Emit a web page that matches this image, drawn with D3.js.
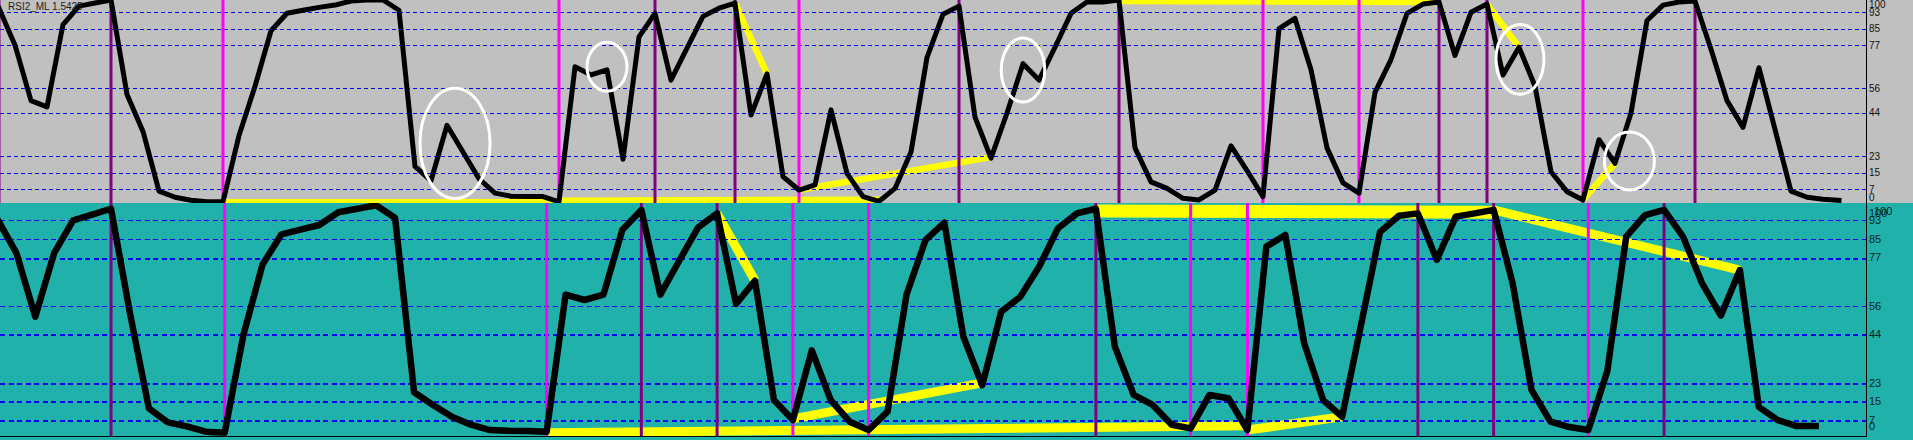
<!DOCTYPE html>
<html>
<head>
<meta charset="utf-8">
<script src="https://cdn.jsdelivr.net/npm/d3@7"></script>
<style>
  body { margin: 0; background: #c0c0c0; overflow: hidden; }
  svg { display: block; }
  text { font-family: "Liberation Sans", Arial, sans-serif; }
</style>
</head>
<body>
<script>
// ---- data ----
// upper window, one value per bar
var topValues = [95, 77, 50, 47, 87, 96, 97.5, 99, 53, 35,
  6, 3, 1.5, 0.8, 0.8, 33, 57, 84, 92.5, 94,
  95.4, 96.5, 98.5, 99, 99, 94, 18, 11, 38, 25,
  12, 5, 3.5, 3.3, 3.3, 0.8, 66.5, 62.5, 65, 21.5,
  81, 92.5, 60, 75.5, 91, 95, 97.5, 43, 63, 13,
  6.5, 9, 45.5, 14.6, 3.3, 1, 7.3, 25, 71, 92,
  96, 42, 22, 44, 68, 60, 76, 92.5, 98, 98,
  99, 27, 10.5, 7.3, 2.5, 1.7, 6.5, 28, 16, 3.3,
  85, 90, 65, 27, 10, 5, 54, 70, 92.5, 97,
  98, 72, 93, 97, 62.5, 76, 57, 15.4, 5.7, 1.7,
  31, 19.5, 44, 89, 96.5, 98, 98.5, 75, 50, 37,
  66, 36, 6, 3, 2, 1.5];

// lower window
var botValues = [93.5, 79, 51.5, 79, 93, 95.5, 98, 53, 12, 6,
  4.3, 2, 1.5, 44, 74, 87, 89, 91, 96.5, 98,
  99.5, 94, 19, 13.5, 8.4, 5, 2.7, 2.4, 2.3, 2,
  61, 58.7, 61, 89, 97.5, 61, 75.6, 90, 96, 57,
  67, 15.6, 7, 37, 15.6, 6.3, 2.7, 10.6, 61, 84.5,
  92, 43, 22, 53.7, 60, 73, 89.6, 96, 98, 38.6,
  17.8, 13.5, 5, 3.4, 17.8, 16.4, 2.7, 81.7, 86.7, 40,
  15.6, 8.4, 48, 88, 95, 96, 76, 94.6, 96, 97.5,
  66, 20, 6.3, 4, 2.7, 28, 86, 95.3, 97.5, 86,
  66, 52, 71.6, 12.7, 7, 4.4, 4.4];

var levels = [93, 85, 77, 56, 44, 23, 15, 7];
var scaleLabels = [100, 93, 85, 77, 56, 44, 23, 15, 7, 0];

// vertical lines, by bar number
var topMagenta = [14, 35, 50, 79, 85, 99];
var topPurple = [0, 7, 41, 46, 60, 70, 90, 93, 106];
var botMagenta = [12, 29, 42, 46, 63, 66, 84];
var botPurple = [6, 34, 38, 58, 75, 79, 88];

// yellow trend lines: [bar1, value1, bar2, value2]
var topTrends = [[14, 0.5, 35, 0.5], [35, 1.3, 55, 1.8], [46, 97.5, 48, 63],
  [50, 6.5, 62, 22.5], [70, 98.5, 90, 98], [93, 97, 95, 76], [99, 1.7, 101, 19.5]];
var botTrends = [[29, 1.5, 66, 4.5], [38, 96, 40, 67], [42, 7.5, 52, 23],
  [58, 97, 79, 96.5], [79, 97.5, 92, 71.6], [66, 2.7, 71, 8.4]];

// white circles: [bar, value, half width in bars, half height in value]
var topCircles = [[28.5, 29.2, 2.19, 26.8], [38, 66.5, 1.25, 11.9], [64, 64.9, 1.36, 15.6],
  [95.06, 70.1, 1.5, 17], [101.9, 20.6, 1.56, 14.1]];

var title = "RSI2_ML 1.5425";

// ---- drawing ----
var width = 1913, height = 440, axisX = 1866.5;

var svg = d3.select("body").append("svg")
  .attr("width", width)
  .attr("height", height);

svg.append("rect").attr("x", 0).attr("y", 0).attr("width", width).attr("height", 203).attr("fill", "#c0c0c0");
svg.append("rect").attr("x", 0).attr("y", 203).attr("width", width).attr("height", 237).attr("fill", "#20b2aa");

var defs = svg.append("defs");
defs.append("clipPath").attr("id", "clipTop").append("rect")
  .attr("x", 0).attr("y", 0).attr("width", axisX).attr("height", 203);
defs.append("clipPath").attr("id", "clipBot").append("rect")
  .attr("x", 0).attr("y", 203).attr("width", axisX).attr("height", 233.5);

var panels = [
  {
    values: topValues, magenta: topMagenta, purple: topPurple, trends: topTrends, circles: topCircles,
    x: d3.scaleLinear().domain([0, 115]).range([-1, 1839]),
    y: d3.scaleLinear().domain([0, 100]).range([203.4, -2.1]),
    top: 0, bottom: 203, clip: "url(#clipTop)",
    lineWidth: 5, trendWidth: 6.5, dash: "4,3", labelMin: 4, labelMax: 197,
    fontSize: 10, labelColor: "#111"
  },
  {
    values: botValues, magenta: botMagenta, purple: botPurple, trends: botTrends, circles: [],
    x: d3.scaleLinear().domain([0, 96]).range([-2.6, 1815.6]),
    y: d3.scaleLinear().domain([0, 100]).range([436.3, 204.1]),
    top: 203, bottom: 436.5, clip: "url(#clipBot)",
    lineWidth: 6.5, trendWidth: 9, dash: "5,3.5", labelMin: 213, labelMax: 426,
    fontSize: 11, labelColor: "#082422"
  }
];

panels.forEach(function(p, pi) {
  var g = svg.append("g").attr("clip-path", p.clip);

  // yellow trend lines
  g.append("g").selectAll("line")
    .data(p.trends)
    .enter().append("line")
    .attr("x1", function(d) { return p.x(d[0]); })
    .attr("y1", function(d) { return p.y(d[1]); })
    .attr("x2", function(d) { return p.x(d[2]); })
    .attr("y2", function(d) { return p.y(d[3]); })
    .attr("stroke", "#ffff00")
    .attr("stroke-width", function(d, i) {
      // the long top line in the lower window is drawn heavier
      return (pi == 1 && i == 3) ? 13 : p.trendWidth;
    });

  // dashed levels
  g.append("g").selectAll("line")
    .data(levels)
    .enter().append("line")
    .attr("x1", 0).attr("x2", axisX)
    .attr("y1", function(d) { return Math.round(p.y(d)) + 0.5; })
    .attr("y2", function(d) { return Math.round(p.y(d)) + 0.5; })
    .attr("stroke", "#0000ff")
    .attr("stroke-width", function(d) {
      if (pi == 0) return 1;
      return (d == 93 || d == 85 || d == 56) ? 1 : 2;
    })
    .attr("stroke-dasharray", p.dash)
    .attr("shape-rendering", "crispEdges");

  // vertical lines
  g.append("g").selectAll("line")
    .data(p.purple)
    .enter().append("line")
    .attr("x1", function(d) { return p.x(d); })
    .attr("x2", function(d) { return p.x(d); })
    .attr("y1", p.top).attr("y2", p.bottom)
    .attr("stroke", "#800080")
    .attr("stroke-width", 3);

  g.append("g").selectAll("line")
    .data(p.magenta)
    .enter().append("line")
    .attr("x1", function(d) { return p.x(d); })
    .attr("x2", function(d) { return p.x(d); })
    .attr("y1", p.top).attr("y2", p.bottom)
    .attr("stroke", "#ff00ff")
    .attr("stroke-width", 3);

  // the indicator line
  var line = d3.line()
    .x(function(d, i) { return p.x(i); })
    .y(function(d) { return p.y(d); });

  g.append("path")
    .datum(p.values)
    .attr("d", line)
    .attr("fill", "none")
    .attr("stroke", "#000")
    .attr("stroke-width", p.lineWidth)
    .attr("stroke-linejoin", "round")
    .attr("stroke-linecap", "square");

  // white circles
  g.append("g").selectAll("ellipse")
    .data(p.circles)
    .enter().append("ellipse")
    .attr("cx", function(d) { return p.x(d[0]); })
    .attr("cy", function(d) { return p.y(d[1]); })
    .attr("rx", function(d) { return p.x(d[2]) - p.x(0); })
    .attr("ry", function(d) { return p.y(0) - p.y(d[3]); })
    .attr("fill", "none")
    .attr("stroke", "#fff")
    .attr("stroke-width", 3);

  // scale labels on the right
  svg.append("g").selectAll("text")
    .data(scaleLabels)
    .enter().append("text")
    .attr("x", 1869)
    .attr("y", function(d) { return Math.max(p.labelMin, Math.min(p.labelMax, p.y(d))); })
    .attr("dy", "0.35em")
    .attr("font-size", p.fontSize)
    .attr("fill", p.labelColor)
    .text(function(d) { return d; });
});

// the lower window prints its 100 twice
svg.append("text")
  .attr("x", 1874).attr("y", 211.5).attr("dy", "0.35em")
  .attr("font-size", 11).attr("fill", "#082422")
  .text(scaleLabels[0]);

// right scale line and lower border
svg.append("line")
  .attr("x1", axisX).attr("x2", axisX).attr("y1", 0).attr("y2", 437)
  .attr("stroke", "#000").attr("stroke-width", 1);
svg.append("line")
  .attr("x1", 0).attr("x2", axisX).attr("y1", 436.5).attr("y2", 436.5)
  .attr("stroke", "#000").attr("stroke-width", 1);

svg.append("text")
  .attr("x", 8).attr("y", 6).attr("dy", "0.35em")
  .attr("font-size", 10).attr("fill", "#222")
  .text(title);
</script>
</body>
</html>
